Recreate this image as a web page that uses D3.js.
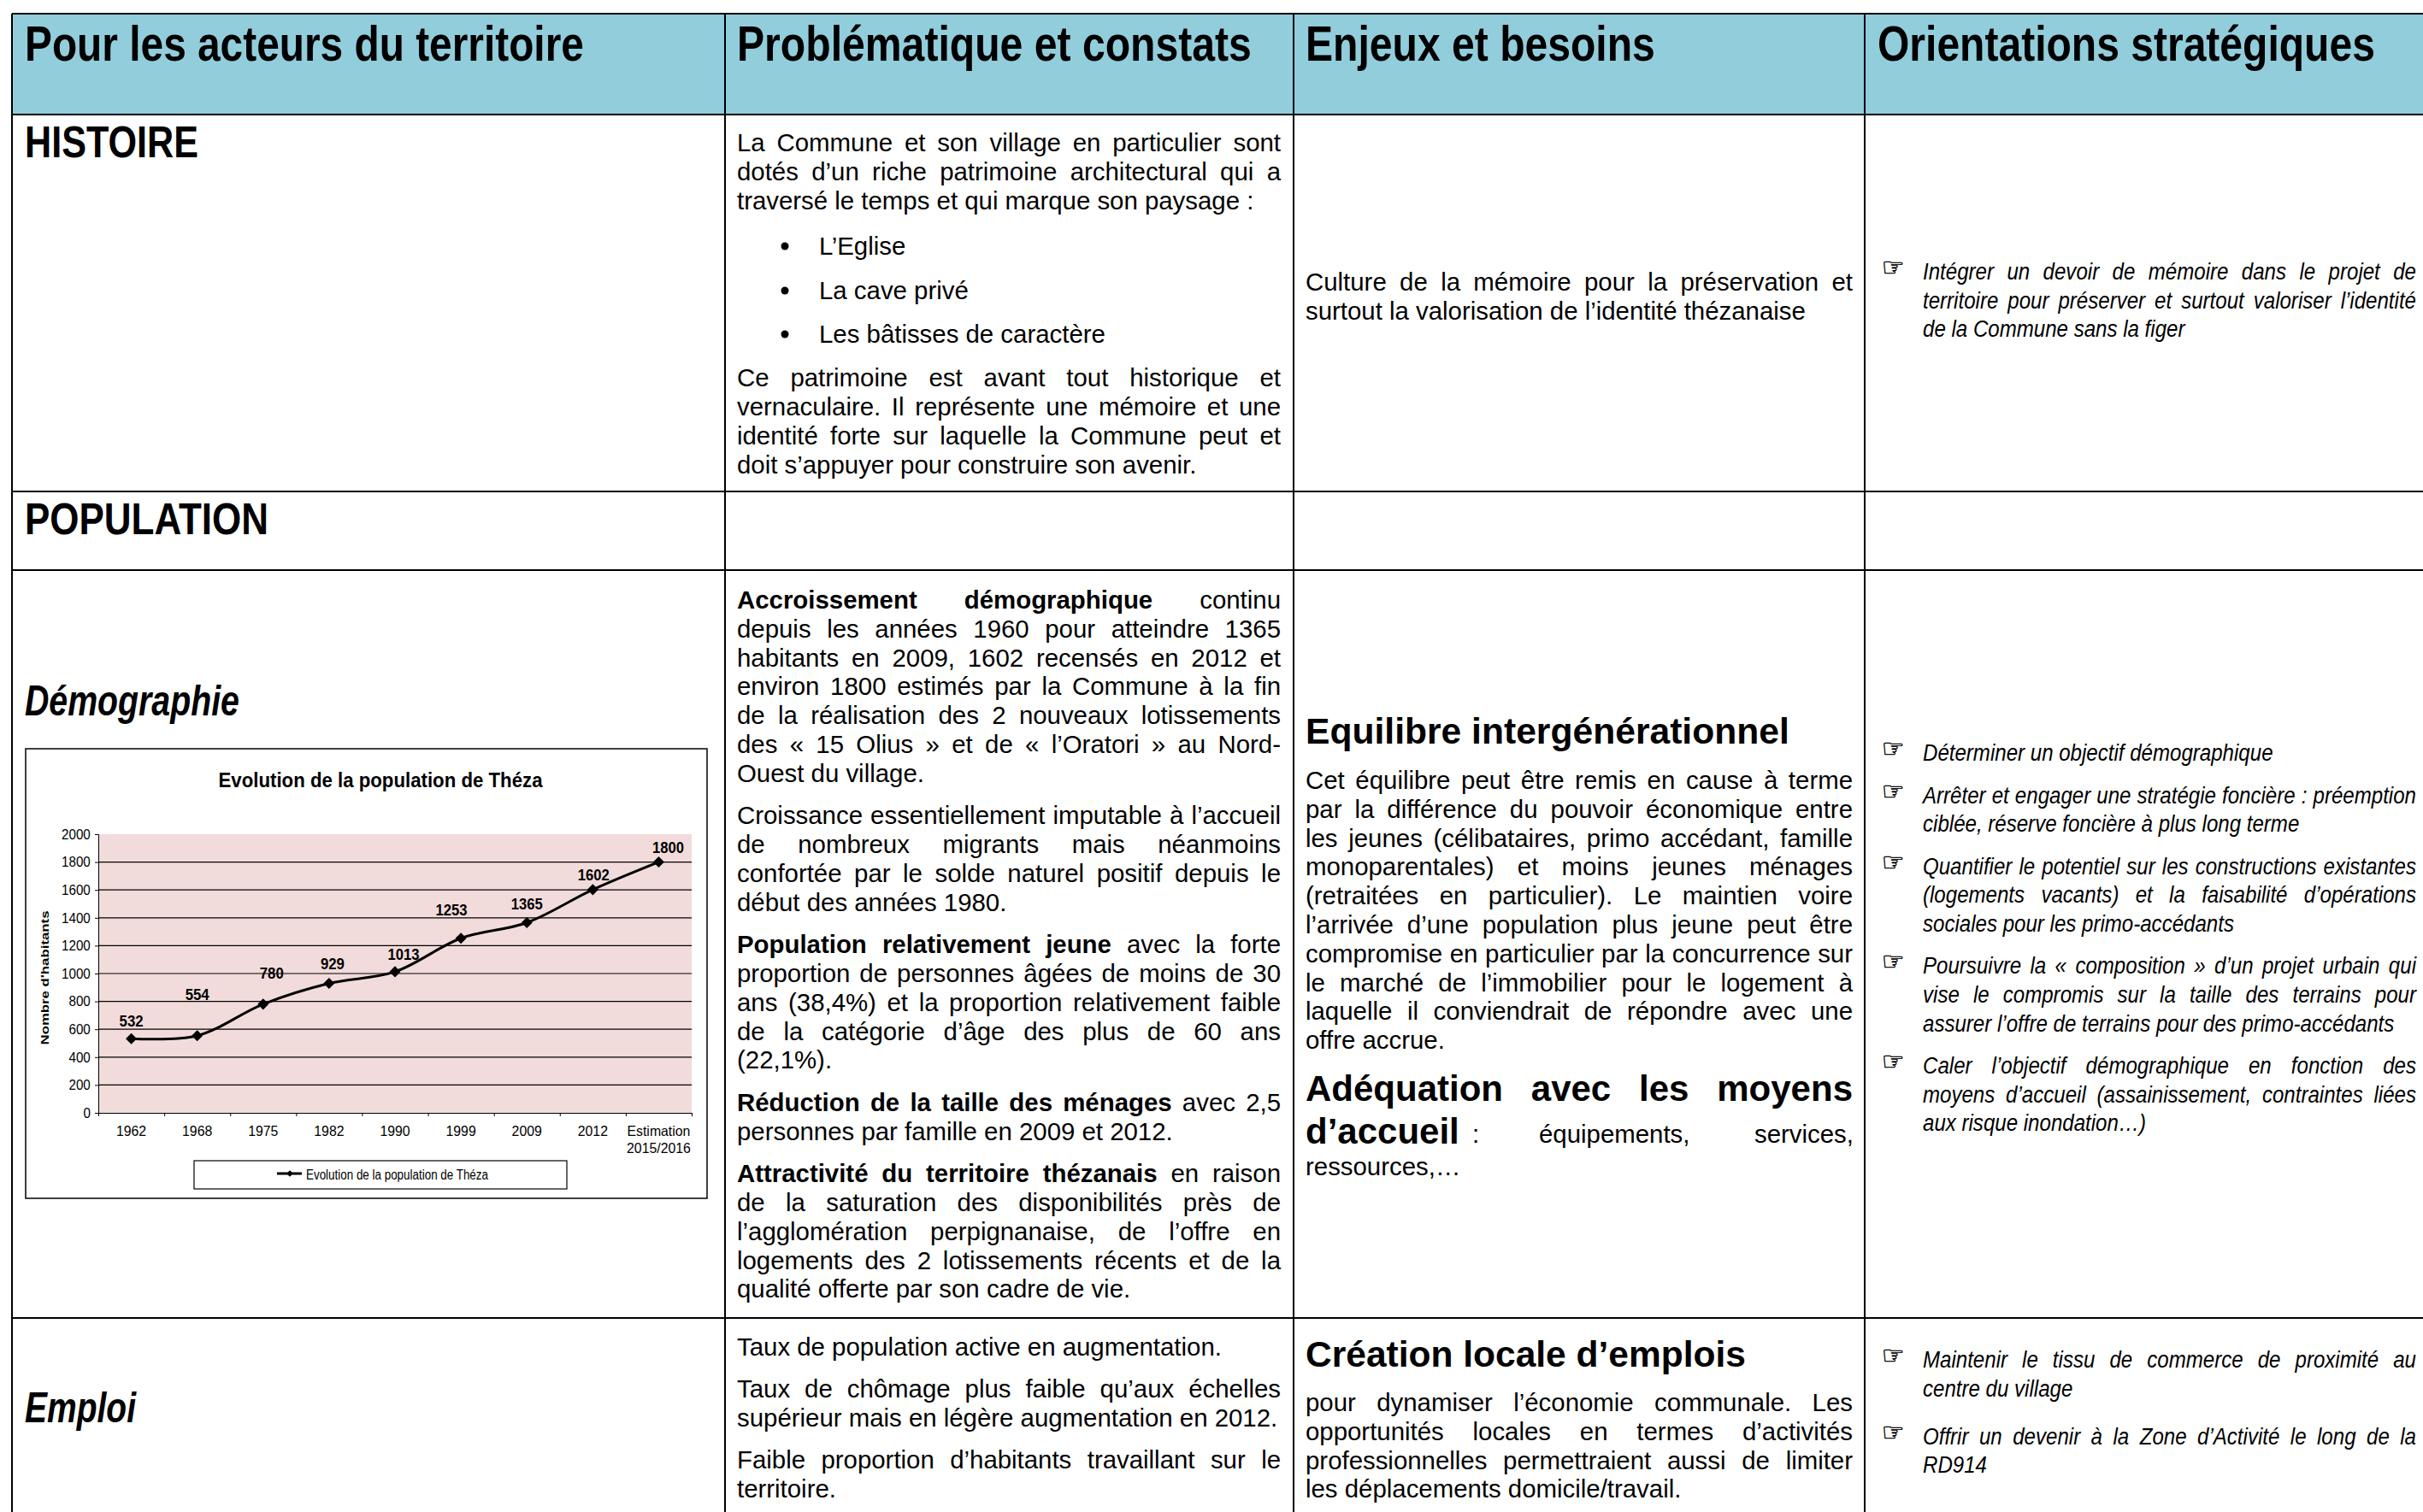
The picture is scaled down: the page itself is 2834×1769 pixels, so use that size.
<!DOCTYPE html>
<html>
<head>
<meta charset="utf-8">
<script src="https://cdn.jsdelivr.net/npm/d3@7"></script>
<style>
body{margin:0;background:#fff}
svg{display:block}
text{font-family:"Liberation Sans",Arial,sans-serif;fill:#000}
</style>
</head>
<body>
<svg id="page" width="2834" height="1769"></svg>
<script>
// chart values
var years = ["1962","1968","1975","1982","1990","1999","2009","2012","Estimation|2015/2016"];
var population = [532,554,780,929,1013,1253,1365,1602,1800];
var yTicks = [0,200,400,600,800,1000,1200,1400,1600,1800,2000];
var chartTitle = "Evolution de la population de Théza";
var yLabel = "Nombre d'habitants";

// table texts
var headers = ["Pour les acteurs du territoire","Problématique et constats","Enjeux et besoins","Orientations stratégiques"];

var histoireP1 = ["La Commune et son village en particulier sont","dotés d’un riche patrimoine architectural qui a","traversé le temps et qui marque son paysage :"];
var histoireBullets = ["L’Eglise","La cave privé","Les bâtisses de caractère"];
var histoireP2 = ["Ce patrimoine est avant tout historique et","vernaculaire. Il représente une mémoire et une","identité forte sur laquelle la Commune peut et","doit s’appuyer pour construire son avenir."];
var histoireEnjeux = ["Culture de la mémoire pour la préservation et","surtout la valorisation de l’identité thézanaise"];
var histoireOrient = [["Intégrer un devoir de mémoire dans le projet de","territoire pour préserver et surtout valoriser l’identité","de la Commune sans la figer"]];

var demoConstats = [
  ["*Accroissement démographique* continu","depuis les années 1960 pour atteindre 1365","habitants en 2009, 1602 recensés en 2012 et","environ 1800 estimés par la Commune à la fin","de la réalisation des 2 nouveaux lotissements","des « 15 Olius » et de « l’Oratori » au Nord-","Ouest du village."],
  ["Croissance essentiellement imputable à l’accueil","de nombreux migrants mais néanmoins","confortée par le solde naturel positif depuis le","début des années 1980."],
  ["*Population relativement jeune* avec la forte","proportion de personnes âgées de moins de 30","ans (38,4%) et la proportion relativement faible","de la catégorie d’âge des plus de 60 ans","(22,1%)."],
  ["*Réduction de la taille des ménages* avec 2,5","personnes par famille en 2009 et 2012."],
  ["*Attractivité du territoire thézanais* en raison","de la saturation des disponibilités près de","l’agglomération perpignanaise, de l’offre en","logements des 2 lotissements récents et de la","qualité offerte par son cadre de vie."]
];
var demoEnjeuxTitle = "Equilibre intergénérationnel";
var demoEnjeux = ["Cet équilibre peut être remis en cause à terme","par la différence du pouvoir économique entre","les jeunes (célibataires, primo accédant, famille","monoparentales) et moins jeunes ménages","(retraitées en particulier). Le maintien voire","l’arrivée d’une population plus jeune peut être","compromise en particulier par la concurrence sur","le marché de l’immobilier pour le logement à","laquelle il conviendrait de répondre avec une","offre accrue."];
var demoOrient = [
  ["Déterminer un objectif démographique"],
  ["Arrêter et engager une stratégie foncière : préemption","ciblée, réserve foncière à plus long terme"],
  ["Quantifier le potentiel sur les constructions existantes","(logements vacants) et la faisabilité d’opérations","sociales pour les primo-accédants"],
  ["Poursuivre la « composition » d’un projet urbain qui","vise le compromis sur la taille des terrains pour","assurer l’offre de terrains pour des primo-accédants"],
  ["Caler l’objectif démographique en fonction des","moyens d’accueil (assainissement, contraintes liées","aux risque inondation…)"]
];
var emploiConstats = [
  ["Taux de population active en augmentation."],
  ["Taux de chômage plus faible qu’aux échelles","supérieur mais en légère augmentation en 2012."],
  ["Faible proportion d’habitants travaillant sur le","territoire."]
];
var emploiEnjeuxTitle = "Création locale d’emplois";
var emploiEnjeux = ["pour dynamiser l’économie communale. Les","opportunités locales en termes d’activités","professionnelles permettraient aussi de limiter","les déplacements domicile/travail."];
var emploiOrient = [
  ["Maintenir le tissu de commerce de proximité au","centre du village"],
  ["Offrir un devenir à la Zone d’Activité le long de la","RD914"]
];

var svg = d3.select("#page");

// table geometry
var colX = [14,848,1513,2181,2840];
var rowY = [16,134,575,667,1542,1780];

svg.append("rect").attr("x",colX[0]).attr("y",rowY[0]).attr("width",colX[4]-colX[0]).attr("height",rowY[1]-rowY[0]).attr("fill","#92cddc");

svg.selectAll(".vline").data(colX.slice(0,4)).enter().append("line")
  .attr("x1",function(d){return d}).attr("x2",function(d){return d})
  .attr("y1",rowY[0]).attr("y2",1769).attr("stroke","#000").attr("stroke-width",2);
svg.selectAll(".hline").data(rowY.slice(0,5)).enter().append("line")
  .attr("x1",colX[0]).attr("x2",2834)
  .attr("y1",function(d){return d}).attr("y2",function(d){return d})
  .attr("stroke","#000").attr("stroke-width",2);

// one line of text. "*..*" is a bold run. fit = stretch to width, justify = spread the words
function textLine(s,x,y,o){
  o = o || {};
  var sx = o.sx || 1;
  var t = svg.append("text")
    .attr("transform","translate("+x+","+y+") scale("+sx+",1)")
    .attr("font-size",o.size||30)
    .attr("font-weight",o.weight||"normal")
    .attr("font-style",o.style||"normal")
    .attr("xml:space","preserve");
  s.split("*").forEach(function(run,i){
    if(run==="") return;
    t.append("tspan").attr("font-weight",i%2?"bold":null).text(run);
  });
  if(o.fit){
    var k = o.fit/t.node().getComputedTextLength();
    t.attr("transform","translate("+x+","+y+") scale("+k+",1)");
  }
  if(o.justify){
    var w = t.node().getComputedTextLength();
    var gaps = s.split(" ").length-1;
    if(gaps>0) t.attr("word-spacing",(o.justify/sx-w)/gaps);
  }
  return t;
}

// paragraphs: last line of each one stays left aligned
function block(paras,x,width,y,o){
  paras.forEach(function(lines,p){
    lines.forEach(function(s,i){
      var isLast = i==lines.length-1;
      textLine(s,x,y,{sx:o.sx,size:o.size,style:o.style,justify:isLast?null:width});
      if(i==0 && o.hand) svg.append("text").attr("x",o.handX).attr("y",y-4).attr("font-size",30)
        .style("font-family","DejaVu Sans").attr("stroke","#000").attr("stroke-width",0.5).text("☞");
      if(!isLast) y+=o.lineH;
    });
    y+=o.paraH;
  });
  return y;
}

var headFit = [654,602,409,582];
var headX = [29,862,1527,2196];
headers.forEach(function(h,i){
  textLine(h,headX[i],71,{size:57,weight:"bold",fit:headFit[i]});
});
textLine("HISTOIRE",29,184,{size:52,weight:"bold",fit:203});
textLine("POPULATION",29,625,{size:52,weight:"bold",fit:285});
textLine("Démographie",29,837,{size:50,weight:"bold",style:"italic",fit:251});
textLine("Emploi",29,1664,{size:50,weight:"bold",style:"italic",fit:130});

var bodySx = 0.98;
var body = {size:30,sx:bodySx,lineH:34,paraH:51.5};
var tight = {size:30,sx:bodySx,lineH:33.8,paraH:49.5};
var ital = {size:28,sx:0.86,style:"italic",lineH:33.6,paraH:49.5,hand:true,handX:2201};

// colonne constats
block([histoireP1],862,636,177,body);
var by = [298,350,401];
histoireBullets.forEach(function(s,i){
  textLine(s,958,by[i],{sx:bodySx});
  svg.append("circle").attr("cx",918).attr("cy",by[i]-10).attr("r",4.5).attr("fill","#000");
});
block([histoireP2],862,636,452,body);
block(demoConstats,862,636,712,tight);
block(emploiConstats,862,636,1586,Object.assign({},tight,{paraH:49}));

// colonne enjeux
block([histoireEnjeux],1527,640,340,body);
textLine(demoEnjeuxTitle,1527,870,{size:42,weight:"bold",fit:566});
block([demoEnjeux],1527,640,923,tight);
textLine("Adéquation avec les moyens",1527,1288,{size:42,weight:"bold",justify:640});
textLine("d’accueil",1527,1338,{size:42,weight:"bold"});
textLine(":",1722,1337,{sx:bodySx});
textLine("équipements,",1800,1337,{sx:bodySx});
textLine("services,",2052,1337,{sx:bodySx});
textLine("ressources,…",1527,1375,{sx:bodySx});
textLine(emploiEnjeuxTitle,1527,1599,{size:42,weight:"bold",fit:515});
block([emploiEnjeux],1527,640,1651,tight);

// colonne orientations
block(histoireOrient,2249,577,327,ital);
block(demoOrient,2249,577,890,ital);
block(emploiOrient,2249,577,1600,Object.assign({},ital,{paraH:56}));

// the population chart
var frame = {x:30,y:876,w:797,h:526};
svg.append("rect").attr("x",frame.x).attr("y",frame.y).attr("width",frame.w).attr("height",frame.h)
  .attr("fill","#fff").attr("stroke","#000").attr("stroke-width",1.5);

var plot = {left:115,right:809,top:976,bottom:1302};
var x = d3.scaleBand().domain(years).range([plot.left,plot.right]);
var y = d3.scaleLinear().domain([0,2000]).range([plot.bottom,plot.top]);

svg.append("rect").attr("x",plot.left).attr("y",plot.top).attr("width",plot.right-plot.left).attr("height",plot.bottom-plot.top).attr("fill","#f2dcdb");

svg.selectAll(".grid").data(yTicks.slice(1,10)).enter().append("line")
  .attr("x1",plot.left).attr("x2",plot.right)
  .attr("y1",function(d){return y(d)}).attr("y2",function(d){return y(d)})
  .attr("stroke","#000").attr("stroke-width",1.2);

var yAxis = d3.axisLeft(y).tickValues(yTicks).tickFormat(d3.format("d")).tickSize(4).tickPadding(5);
var gy = svg.append("g").attr("transform","translate("+plot.left+",0)").call(yAxis);
gy.selectAll("text").attr("font-size",16.5).attr("transform","scale(0.92,1)").attr("x",-10);

// tick marks sit between the categories
var xEdges = d3.scaleLinear().domain([0,years.length]).range([plot.left,plot.right]);
svg.append("g").attr("transform","translate(0,"+plot.bottom+")")
  .call(d3.axisBottom(xEdges).tickValues(d3.range(0,years.length+1)).tickSize(4).tickFormat(""));

var xAxis = d3.axisBottom(x).tickSize(0).tickPadding(27);
var gx = svg.append("g").attr("transform","translate(0,"+plot.bottom+")").call(xAxis);
gx.select(".domain").remove();
gx.selectAll("text").each(function(d){
  var parts = d.split("|");
  var t = d3.select(this).text(null).attr("font-size",16.5).attr("transform","scale(0.96,1)");
  parts.forEach(function(p,i){
    t.append("tspan").attr("x",0).attr("dy",i?20:0).text(p);
  });
});

var line = d3.line()
  .x(function(d,i){return x(years[i])+x.bandwidth()/2})
  .y(function(d){return y(d)})
  .curve(d3.curveCatmullRom.alpha(0.5));
svg.append("path").datum(population).attr("d",line).attr("fill","none").attr("stroke","#000").attr("stroke-width",3);

svg.selectAll(".pt").data(population).enter().append("path")
  .attr("d",d3.symbol().type(d3.symbolSquare).size(85))
  .attr("transform",function(d,i){return "translate("+(x(years[i])+x.bandwidth()/2)+","+y(d)+") rotate(45)"})
  .attr("fill","#000");

// data labels are nudged by hand like in the original chart
var nudgeX = [0,0,10,4,10,-11,0,1,11];
var nudgeY = [-14,-42,-30,-17,-14,-27,-16,-11,-11];
svg.selectAll(".lab").data(population).enter().append("text")
  .attr("x",function(d,i){return x(years[i])+x.bandwidth()/2+nudgeX[i]})
  .attr("y",function(d,i){return y(d)+nudgeY[i]})
  .attr("text-anchor","middle").attr("font-size",18).attr("font-weight","bold")
  .attr("textLength",function(d){return d>=1000?37:28}).attr("lengthAdjust","spacingAndGlyphs")
  .text(function(d){return d});

svg.append("text").attr("x",445).attr("y",921).attr("text-anchor","middle")
  .attr("font-size",24).attr("font-weight","bold")
  .attr("textLength",379).attr("lengthAdjust","spacingAndGlyphs").text(chartTitle);

svg.append("text").attr("transform","translate(57,1144) rotate(-90)").attr("text-anchor","middle")
  .attr("font-size",13).attr("font-weight","bold")
  .attr("textLength",157).attr("lengthAdjust","spacingAndGlyphs").text(yLabel);

// legend
svg.append("rect").attr("x",227).attr("y",1358).attr("width",436).attr("height",33)
  .attr("fill","#fff").attr("stroke","#000").attr("stroke-width",1.2);
svg.append("line").attr("x1",324).attr("x2",353).attr("y1",1373).attr("y2",1373).attr("stroke","#000").attr("stroke-width",3);
svg.append("path").attr("d",d3.symbol().type(d3.symbolSquare).size(30))
  .attr("transform","translate(339,1373) rotate(45)").attr("fill","#000");
svg.append("text").attr("x",358).attr("y",1380).attr("font-size",16)
  .attr("textLength",213).attr("lengthAdjust","spacingAndGlyphs").text(chartTitle);
</script>
</body>
</html>
